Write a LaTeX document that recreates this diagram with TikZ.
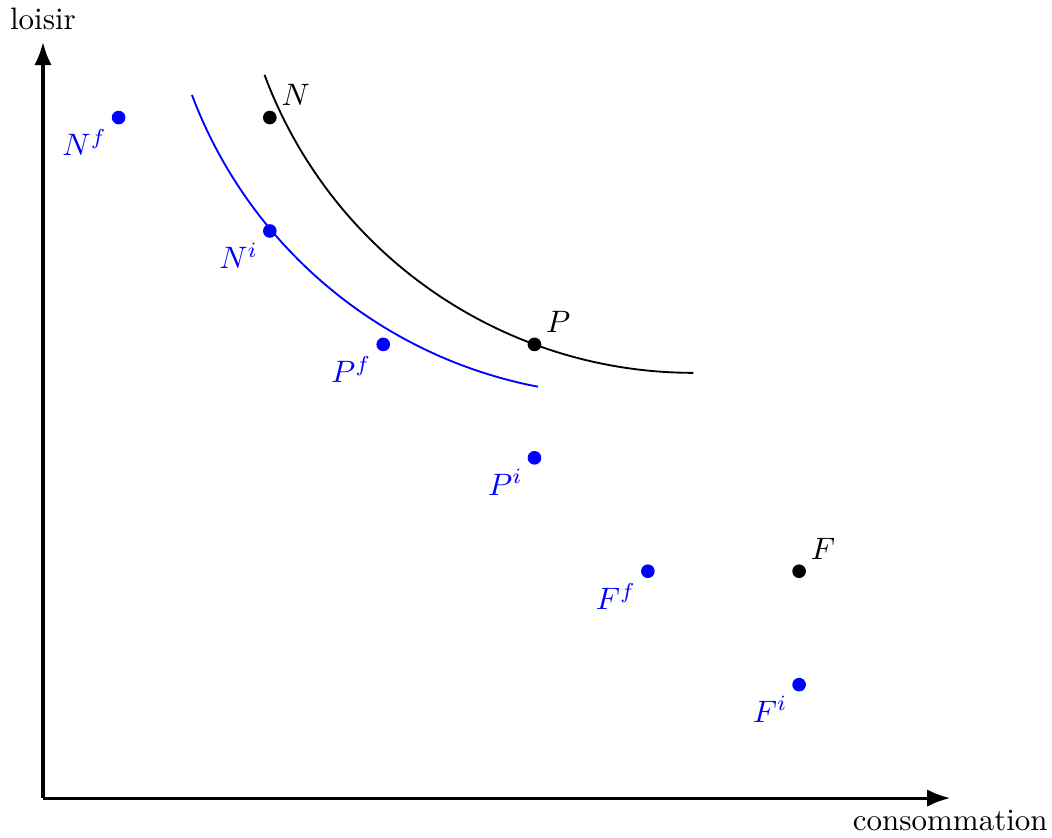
\documentclass[tikz,border=0pt]{standalone}
\usepackage{tikz}
\usetikzlibrary{arrows.meta,positioning}
\usepackage{amsmath}
\usepackage{xcolor}
\tikzset{
 axis/.style={-Latex, line width=1pt, draw=black},
 dot/.style={fill=black},
 bluedot/.style={fill=blue},
 pointlab/.style={font=\normalsize, inner sep=3.6pt},
 curve/.style={semithick, draw=black},
 bluecurve/.style={semithick, draw=blue}
}

\begin{document}
\begin{tikzpicture}[x=0.4287cm,y=0.4287cm]
\useasboundingbox (-1.137,-1.032) rectangle (26.69,21.11);
\coordinate (O) at (0,0);
\coordinate (X) at (24,0);
\coordinate (Y) at (0,20);
\draw[axis] (O) -- (X) node[below] (xlab) {consommation};
\draw[axis] (O) -- (Y) node[above] (ylab) {loisir};
% indifference curves
\draw[curve] (5.86,19.13) arc[start angle=200.4, end angle=270, radius=12.1];
\draw[bluecurve] (3.94,18.6) arc[start angle=200.6, end angle=259.1, radius=12.25];
% points
\foreach \n/\x/\y in {N/6/18,P/13/12,F/20/6}{
 \coordinate (\n) at (\x,\y);
 \fill[dot] (\n) circle (2.2pt);
 \node[pointlab, above right] (lab\n) at (\n) {$\n$};
}
\foreach \n/\x/\y in {Nf/2/18,Ni/6/15,Pf/9/12,Pi/13/9,Ff/16/6,Fi/20/3}{
 \coordinate (\n) at (\x,\y);
}
\foreach \n/\m/\s in {Nf/N/f,Ni/N/i,Pf/P/f,Pi/P/i,Ff/F/f,Fi/F/i}{
 \fill[bluedot] (\n) circle (2.2pt);
 \node[pointlab, below left, text=blue] (lab\n) at (\n) {$\m^\s$};
}
\end{tikzpicture}
\end{document}
